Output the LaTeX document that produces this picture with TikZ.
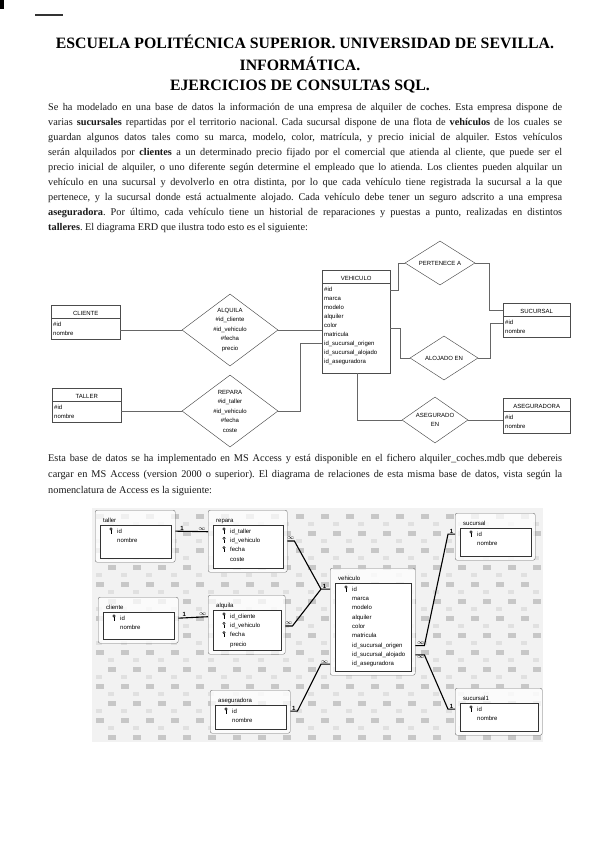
\documentclass[tikz,border=0pt]{standalone}
\usepackage{fontspec}
\setmainfont{Liberation Serif}
\setsansfont{Liberation Sans}
\usetikzlibrary{shapes.geometric}
\hyphenpenalty=10000
\exhyphenpenalty=10000
\frenchspacing

\newcommand{\entidadERD}[7]{
\node[entidad,anchor=north west,minimum width=#4pt,minimum height=#5pt] (#1) at (#2,#3) {};
\draw[entidad] ([yshift=-13pt]#1.north west) -- ([yshift=-13pt]#1.north east);
\node[cabecera] (#1-tit) at ([yshift=-10pt]#1.north) {#6};
\foreach \atr [count=\i] in {#7}{
\node[atributo] (#1-\i) at ([xshift=2pt,yshift={-(12+9*\i)*1pt}]#1.north west) {\atr};
}
}
\newcommand{\tablaAccess}[7]{
\node[tabla,anchor=north west,minimum width=#4pt,minimum height=#5pt] (#1) at (#2,#3) {};
\draw[campos] ([xshift=5pt,yshift=-15pt]#1.north west) rectangle ([xshift=-4pt,yshift=4pt]#1.south east);
\node[campo] (#1-tit) at ([xshift=8pt,yshift=-12pt]#1.north west) {#6};
\foreach \llv/\cmp [count=\i] in {#7}{
\node[campo] (#1-\i) at ([xshift=22pt,yshift={-(14+9.3*\i)*1pt}]#1.north west) {\cmp};
\ifnum\llv=1 \pic at ([xshift=16pt,yshift={-(11+9.3*\i)*1pt}]#1.north west) {llave};\fi
}
}
\tikzset{
titulo/.style={anchor=base,inner sep=0pt,font=\bfseries\fontsize{15.8}{18}\selectfont},
parrafo/.style={anchor=north west,inner sep=0pt,text width=514pt,align=justify,text=black!90},
entidad/.style={draw=black!70,line width=0.45pt},
cabecera/.style={anchor=base,inner sep=0pt,font=\sffamily\fontsize{6}{7}\selectfont},
atributo/.style={anchor=base west,inner sep=0pt,font=\sffamily\fontsize{6}{7}\selectfont},
relacion/.style={diamond,draw=black!70,line width=0.45pt,inner sep=0pt},
textorel/.style={align=center,inner sep=0pt,font=\sffamily\fontsize{6}{9.5}\selectfont},
enlace/.style={black!60,line width=0.5pt},
tabla/.style={draw=black!55,rounded corners=2pt,fill=white,fill opacity=0.75},
campos/.style={draw=black!80,line width=0.5pt,fill=white},
campo/.style={anchor=base west,inner sep=0pt,font=\sffamily\fontsize{6}{7}\selectfont},
union/.style={black,line width=1.1pt},
card/.style={inner sep=0.6pt,font=\sffamily\bfseries\fontsize{6}{6}\selectfont},
llave/.pic={
\draw[line width=0.5pt] (0,1.3pt) circle (1.2pt);
\draw[line width=0.5pt] (0,0) -- (0,-2.8pt) -- (0.9pt,-2.8pt);
}
}

\begin{document}
\begin{tikzpicture}[x=1pt,y=-1pt]
\useasboundingbox[fill=white] (0,0) rectangle (600,848);

% marcas del escaneo
\fill[black] (0,0) rectangle (4,9);
\draw[black!80,line width=1.2pt] (35,15) -- (63,15);

% cabecera
\node[titulo] (tit1) at (305,49) {ESCUELA POLITÉCNICA SUPERIOR. UNIVERSIDAD DE SEVILLA.};
\node[titulo] (tit2) at (300,71) {INFORMÁTICA.};
\node[titulo] (tit3) at (300,91) {EJERCICIOS DE CONSULTAS SQL.};

\node[parrafo,font=\fontsize{10.3}{15}\selectfont] (intro) at (48,103) {Se ha modelado en una base de datos la información de una empresa de alquiler de coches. Esta empresa dispone de\linebreak
varias \textbf{sucursales} repartidas por el territorio nacional. Cada sucursal dispone de una flota de \textbf{vehículos} de los cuales se\linebreak
guardan algunos datos tales como su marca, modelo, color, matrícula, y precio inicial de alquiler. Estos vehículos\linebreak
serán alquilados por \textbf{clientes} a un determinado precio fijado por el comercial que atienda al cliente, que puede ser el\linebreak
precio inicial de alquiler, o uno diferente según determine el empleado que lo atienda. Los clientes pueden alquilar un\linebreak
vehículo en una sucursal y devolverlo en otra distinta, por lo que cada vehículo tiene registrada la sucursal a la que\linebreak
pertenece, y la sucursal donde está actualmente alojado. Cada vehículo debe tener un seguro adscrito a una empresa\linebreak
\textbf{aseguradora}. Por último, cada vehículo tiene un historial de reparaciones y puestas a punto, realizadas en distintos\linebreak
\textbf{talleres}. El diagrama ERD que ilustra todo esto es el siguiente:};

% diagrama ERD
\entidadERD{cliente}{51}{305}{69}{34}{CLIENTE}{\#id,nombre}
\entidadERD{taller}{52}{388}{69}{34}{TALLER}{\#id,nombre}
\entidadERD{vehiculo}{322}{270}{68}{103}{VEHICULO}{\#id,marca,modelo,alquiler,color,matricula,id\_sucursal\_origen,id\_sucursal\_alojado,id\_aseguradora}
\entidadERD{sucursal}{503}{303}{67}{34}{SUCURSAL}{\#id,nombre}
\entidadERD{aseguradora}{503}{398}{67}{35}{ASEGURADORA}{\#id,nombre}

\node[relacion,minimum width=96pt,minimum height=72pt] (alquila) at (230,330) {};
\node[textorel] (alquila-txt) at (alquila) {ALQUILA\\\#id\_cliente\\\#id\_vehiculo\\\#fecha\\precio};
\node[relacion,minimum width=96pt,minimum height=72pt] (repara) at (230,411) {};
\node[textorel] (repara-txt) at (repara) {REPARA\\\#id\_taller\\\#id\_vehiculo\\\#fecha\\coste};
\node[relacion,minimum width=70pt,minimum height=44pt] (pertenece) at (440,263) {};
\node[textorel] (pertenece-txt) at (pertenece) {PERTENECE A};
\node[relacion,minimum width=68pt,minimum height=44pt] (alojado) at (444,358) {};
\node[textorel] (alojado-txt) at (alojado) {ALOJADO EN};
\node[relacion,minimum width=66pt,minimum height=46pt] (asegurado) at (435,420) {};
\node[textorel] (asegurado-txt) at (asegurado) {ASEGURADO\\EN};

\coordinate (codoR) at (300,343);
\coordinate (codoP) at (398,290);
\coordinate (codoS) at (489,310);
\coordinate (codoA) at (400,328);
\coordinate (codoS2) at (490,323);
\coordinate (codoV) at (357,420);
\draw[enlace] (cliente.east |- alquila.west) -- (alquila.west);
\draw[enlace] (alquila.east) -- (alquila.east -| vehiculo.west);
\draw[enlace] (taller.east |- repara.west) -- (repara.west);
\draw[enlace] (repara.east) -| (codoR) -- (codoR -| vehiculo.west);
\draw[enlace] (codoP -| vehiculo.east) -- (codoP) |- (pertenece.west);
\draw[enlace] (pertenece.east) -| (codoS) -- (codoS -| sucursal.west);
\draw[enlace] (codoA -| vehiculo.east) -- (codoA) |- (alojado.west);
\draw[enlace] (alojado.east) -| (codoS2) -- (codoS2 -| sucursal.west);
\draw[enlace] (codoV |- vehiculo.south) -- (codoV) -- (asegurado.west);
\draw[enlace] (asegurado.east) -- (asegurado.east -| aseguradora.west);

\node[parrafo,font=\fontsize{10.3}{16}\selectfont] (access) at (48,454) {Esta base de datos se ha implementado en MS Access y está disponible en el fichero alquiler\_coches.mdb que debereis\linebreak
cargar en MS Access (version 2000 o superior). El diagrama de relaciones de esta misma base de datos, vista según la\linebreak
nomenclatura de Access es la siguiente:};

% diagrama de relaciones de Access
\begin{scope}
\clip (92,508) rectangle (543,742);
\fill[black!5] (92,508) rectangle (543,742);
\foreach \i in {0,...,18}{
\foreach \j in {0,...,13}{
\pgfmathtruncatemacro{\desp}{mod(\j,2)*12}
\fill[black!22] (96+\i*25+\desp,514+\j*17) rectangle +(8pt,-5pt);
\fill[black!12] (108+\i*25-\desp,522+\j*17) rectangle +(6pt,-4pt);
}
}
\end{scope}

\tablaAccess{tTaller}{95}{510}{80}{52}{taller}{1/id,0/nombre}
\tablaAccess{tRepara}{208}{510}{79}{62}{repara}{1/id\_taller,1/id\_vehiculo,1/fecha,0/coste}
\tablaAccess{tCliente}{98}{597}{80}{46}{cliente}{1/id,0/nombre}
\tablaAccess{tAlquila}{208}{595}{77}{59}{alquila}{1/id\_cliente,1/id\_vehiculo,1/fecha,0/precio}
\tablaAccess{tVehiculo}{330}{568}{85}{107}{vehiculo}{1/id,0/marca,0/modelo,0/alquiler,0/color,0/matricula,0/id\_sucursal\_origen,0/id\_sucursal\_alojado,0/id\_aseguradora}
\tablaAccess{tSucursal}{455}{513}{80}{47}{sucursal}{1/id,0/nombre}
\tablaAccess{tSucursal1}{455}{688}{87}{47}{sucursal1}{1/id,0/nombre}
\tablaAccess{tAseguradora}{210}{690}{80}{43}{aseguradora}{1/id,0/nombre}

\draw[union] (tTaller.east |- tTaller-1) -- (tRepara.west |- tRepara-1)
node[card,above,pos=0.2] {1} node[card,above,pos=0.82] {$\infty$};
\draw[union] (tCliente.east |- tCliente-1) -- (tAlquila.west |- tAlquila-1)
node[card,above,pos=0.2] {1} node[card,above,pos=0.82] {$\infty$};
\draw[union] (tRepara.east |- tRepara-2) -- ++(7pt,0) node[card,above,pos=0.5] {$\infty$}
-- ([xshift=-9pt]tVehiculo.west |- tVehiculo-1) -- (tVehiculo.west |- tVehiculo-1) node[card,above,pos=0.4] {1};
\draw[union] (tAlquila.east |- tAlquila-2) -- ++(7pt,0) node[card,above,pos=0.5] {$\infty$}
-- ([xshift=-9pt]tVehiculo.west |- tVehiculo-1);
\draw[union] (tAseguradora.east |- tAseguradora-1) -- ++(7pt,0) node[card,above,pos=0.5] {1}
-- ([xshift=-9pt]tVehiculo.west |- tVehiculo-9) -- (tVehiculo.west |- tVehiculo-9) node[card,above,pos=0.4] {$\infty$};
\draw[union] (tSucursal.west |- tSucursal-1) -- ++(-7pt,0) node[card,above,pos=0.5] {1}
-- ([xshift=9pt]tVehiculo.east |- tVehiculo-7) -- (tVehiculo.east |- tVehiculo-7) node[card,above,pos=0.4] {$\infty$};
\draw[union] (tSucursal1.west |- tSucursal1-1) -- ++(-7pt,0) node[card,above,pos=0.5] {1}
-- ([xshift=9pt]tVehiculo.east |- tVehiculo-8) -- (tVehiculo.east |- tVehiculo-8) node[card,below,pos=0.4] {$\infty$};
\end{tikzpicture}
\end{document}
